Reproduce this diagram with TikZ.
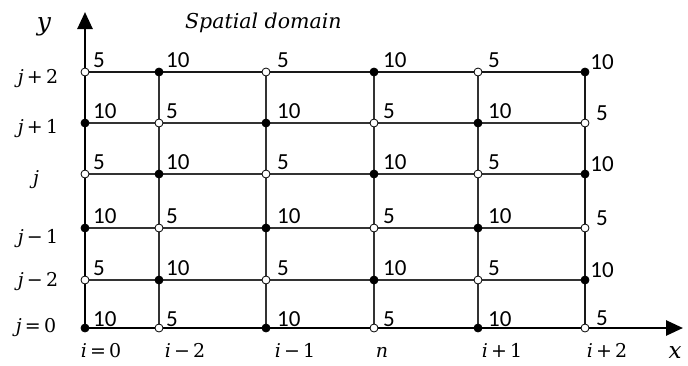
\documentclass[tikz,border=0pt]{standalone}
\usepackage{fontspec}
\newfontfamily\numfont{Carlito}
\newfontfamily\mfont{DejaVu Serif}
\newcommand{\ml}[2]{{\mfont\itshape #1}{\mfont #2}}
\usetikzlibrary{arrows.meta,backgrounds}
\begin{document}
\begin{tikzpicture}[x=1pt,y=-1pt,
  gridpt/.style={circle,draw=black,line width=0.8pt,inner sep=0pt,minimum size=8pt},
  wpt/.style={gridpt,fill=white},
  bpt/.style={gridpt,fill=black},
  val/.style={anchor=south west,inner sep=0pt,font=\numfont\fontsize{23}{23}\selectfont},
  valr/.style={anchor=center,inner sep=0pt,font=\numfont\fontsize{23}{23}\selectfont},
  lab/.style={anchor=base,inner sep=0pt,font=\fontsize{19}{22}\selectfont},
  axlab/.style={anchor=base,inner sep=0pt,font=\fontsize{25}{28}\selectfont},
  axisline/.style={line width=2.7pt,black,-{Triangle[width=15pt,length=17pt]}},
  borderline/.style={line width=2.3pt,black!90},
  innerline/.style={line width=1.4pt,black!80}]
\useasboundingbox (0,0) rectangle (688,365);
% grid points and values
\foreach \xx [count=\c from 0] in {85,159,266,374,478,585}{
  \foreach \yy [count=\r from 0] in {328,280,228,174,123,72}{
    \pgfmathtruncatemacro{\pp}{mod(\c+\r,2)}
    \ifnum\pp=0
      \node[bpt] (n-\c-\r) at (\xx,\yy) {};
      \gdef\vv{10}
    \else
      \node[wpt] (n-\c-\r) at (\xx,\yy) {};
      \gdef\vv{5}
    \fi
    \pgfmathsetmacro{\dx}{{8,7,11,9,10,16}[\c]}
    \ifnum\r=0 \gdef\dy{-1.5}\else \gdef\dy{-4.5}\fi
    \ifnum\c=5
      \node[valr] (v-\c-\r) at ([shift={(17,-10)}]n-\c-\r.center) {\vv};
    \else
      \node[val] (v-\c-\r) at ([shift={(\dx,\dy)}]n-\c-\r.center) {\vv};
    \fi
  }
}
\coordinate (xtip) at (683,328);
\coordinate (ytip) at (85,12);
\begin{scope}[on background layer]
  \foreach \r in {1,2,3,4}{\draw[innerline] (n-0-\r) -- (n-5-\r);}
  \foreach \c in {1,2,3,4}{\draw[innerline] (n-\c-0) -- (n-\c-5);}
  \draw[borderline] (n-0-5) -- (n-5-5);
  \draw[borderline] (n-5-0) -- (n-5-5);
  \draw[axisline] (n-0-0) -- (xtip);
  \draw[axisline] (n-0-0) -- (ytip);
\end{scope}
% axis labels
\node[axlab] (ylab) at (44,30) {\ml{y}{}};
\node[axlab,font=\fontsize{23}{26}\selectfont] (xlab) at (675,358) {\ml{x}{}};
\node[anchor=base west,inner sep=0pt,font=\mfont\itshape\fontsize{20.5}{24}\selectfont] (title) at (185,28) {Spatial domain};
% row labels
\node[lab] (r5) at (38,83.5) {\ml{j}{\,+\,2}};
\node[lab] (r4) at (38,133.5) {\ml{j}{\,+\,1}};
\node[lab] (r3) at (36,184.5) {\ml{j}{}};
\node[lab] (r2) at (38,243.5) {\ml{j}{\,−\,1}};
\node[lab] (r1) at (38,286.5) {\ml{j}{\,−\,2}};
\node[lab] (r0) at (36,332.5) {\ml{j}{\,=\,0}};
% column labels
\node[lab] (c0) at (101,357) {\ml{i}{\,=\,0}};
\node[lab] (c1) at (185,357) {\ml{i}{\,−\,2}};
\node[lab] (c2) at (295,357) {\ml{i}{\,−\,1}};
\node[lab] (c3) at (382,357) {\ml{n}{}};
\node[lab] (c4) at (502,357) {\ml{i}{\,+\,1}};
\node[lab] (c5) at (607,357) {\ml{i}{\,+\,2}};
\end{tikzpicture}
\end{document}
